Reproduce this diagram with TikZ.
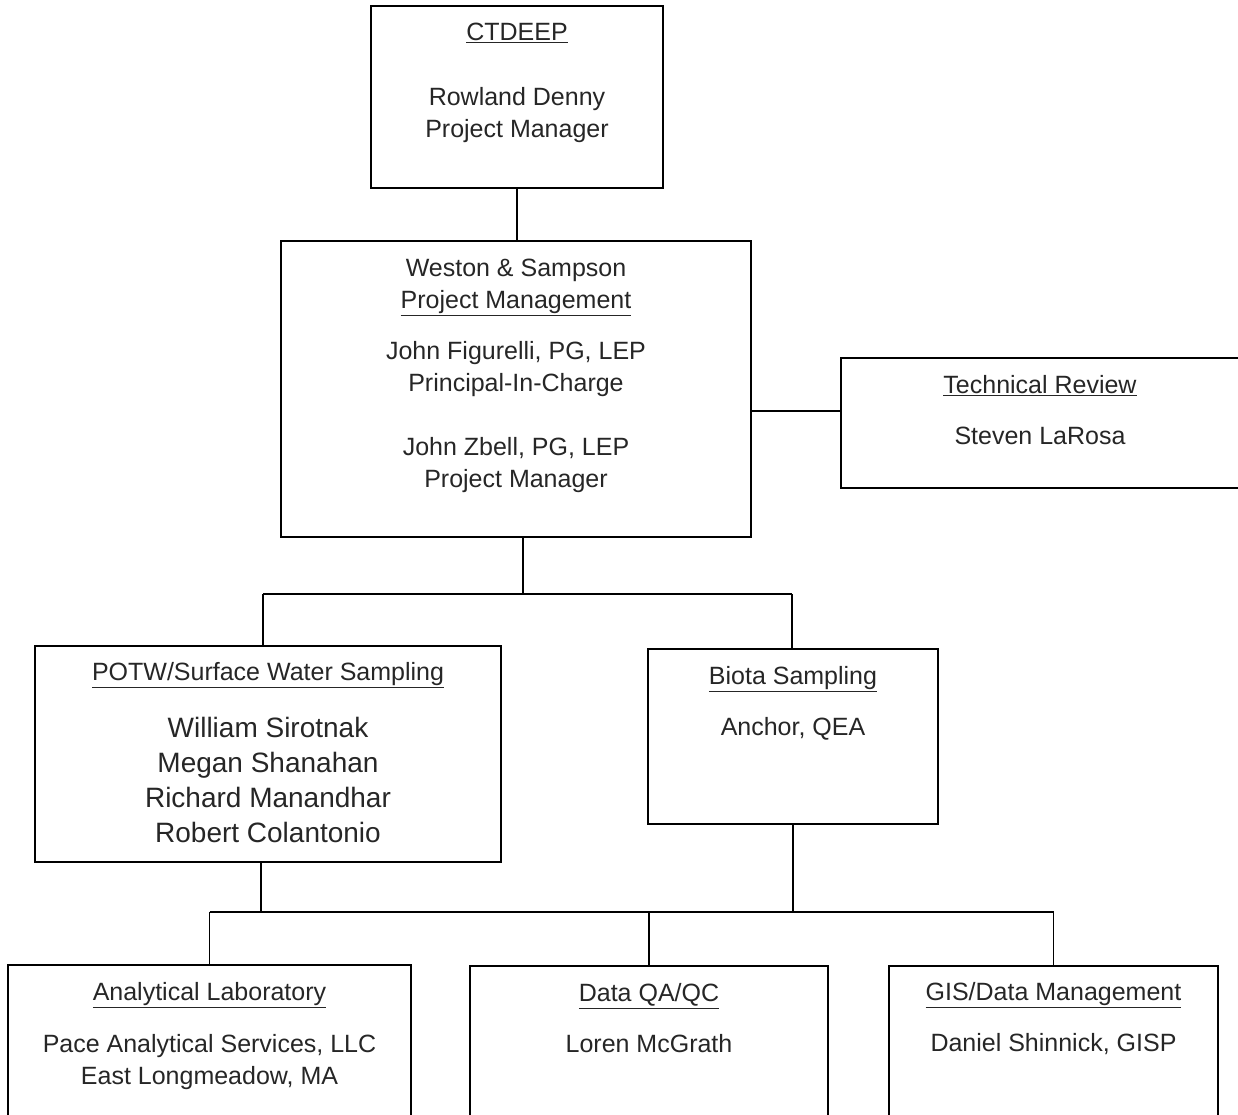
\documentclass[tikz,border=0pt]{standalone}
\usepackage{fontspec}
\setmainfont{Liberation Sans}
\usetikzlibrary{calc}

\tikzset{
  box/.style={draw, line width=1.5pt, inner sep=0pt},
  txt/.style={align=center, inner sep=0pt, text=black!85, font=\fontsize{25}{32}\selectfont},
  bigtxt/.style={align=center, inner sep=0pt, text=black!85, font=\fontsize{28}{35}\selectfont},
  link/.style={line width=1.5pt}
}

\begin{document}
\begin{tikzpicture}[x=1pt,y=-1pt]
  \useasboundingbox (0,0) rectangle (1238,1115);
  \clip (0,0) rectangle (1238,1115);

  % boxes
  \node[box, minimum width=292pt, minimum height=182pt] (ctdeep) at (517,97)     {};
  \node[box, minimum width=470pt, minimum height=296pt] (weston) at (516,389)    {};
  \node[box, minimum width=404pt, minimum height=130pt] (tech)   at (1043,423)   {};
  \node[box, minimum width=466pt, minimum height=216pt] (potw)   at (268,754)    {};
  \node[box, minimum width=290pt, minimum height=175pt] (biota)  at (793,736.5)  {};
  \node[box, minimum width=403pt, minimum height=175pt] (lab)    at (209.5,1052.5) {};
  \node[box, minimum width=358pt, minimum height=174pt] (qaqc)   at (649,1053)   {};
  \node[box, minimum width=329pt, minimum height=174pt] (gis)    at (1053.5,1053) {};

  % texts
  \node[txt] (ctdeeptxt) at (517,83) {\underline{CTDEEP}\\[33pt]Rowland Denny\\Project Manager};
  \node[txt] (westontxt) at (516,376) {Weston \& Sampson\\\underline{Project Management}\\[19pt]
    John Figurelli, PG, LEP\\Principal-In-Charge\\[32pt]John Zbell, PG, LEP\\Project Manager};
  \node[txt] (techtxt)  at (1040,410.5) {\underline{Technical Review}\\[19pt]Steven LaRosa};
  \node[txt] (potwttl)  at (268,675) {\underline{POTW/Surface Water Sampling}};
  \node[bigtxt] (potwtxt) at (268,780) {William Sirotnak\\Megan Shanahan\\Richard Manandhar\\Robert Colantonio};
  \node[txt] (biotatxt) at (793,703.5) {\underline{Biota Sampling}\\[19pt]Anchor, QEA};
  \node[txt] (labtxt)   at (209.5,1036) {\underline{Analytical Laboratory}\\[20pt]Pace Analytical Services, LLC\\East Longmeadow, MA};
  \node[txt] (qaqctxt)  at (649,1018.5) {\underline{Data QA/QC}\\[19pt]Loren McGrath};
  \node[txt] (gistxt)   at (1053.5,1018.5) {\underline{GIS/Data Management}\\[19pt]Daniel Shinnick, GISP};

  % connectors
  \coordinate (techlink) at (796,411);
  \coordinate (bus1) at (523,594);
  \coordinate (bus2) at (793,912);
  \draw[link] (ctdeep.south) -- (ctdeep.south |- weston.north);
  \draw[link] (weston.east |- techlink) -- (tech.west |- techlink);
  \draw[link] (bus1 |- weston.south) -- (bus1);
  \draw[link] (263,594) coordinate (bus1l) -- (792,594) coordinate (bus1r);
  \draw[link] (bus1l) -- (bus1l |- potw.north);
  \draw[link] (bus1r) -- (bus1r |- biota.north);
  \draw[link] (261,912) coordinate (potwdrop) -- (potwdrop |- potw.south);
  \draw[link] (biota.south) -- (bus2);
  \draw[link] (lab.north |- bus2) -- (gis.north |- bus2);
  \draw[link] (lab.north |- bus2) -- (lab.north);
  \draw[link] (qaqc.north |- bus2) -- (qaqc.north);
  \draw[link] (gis.north |- bus2) -- (gis.north);
\end{tikzpicture}
\end{document}
